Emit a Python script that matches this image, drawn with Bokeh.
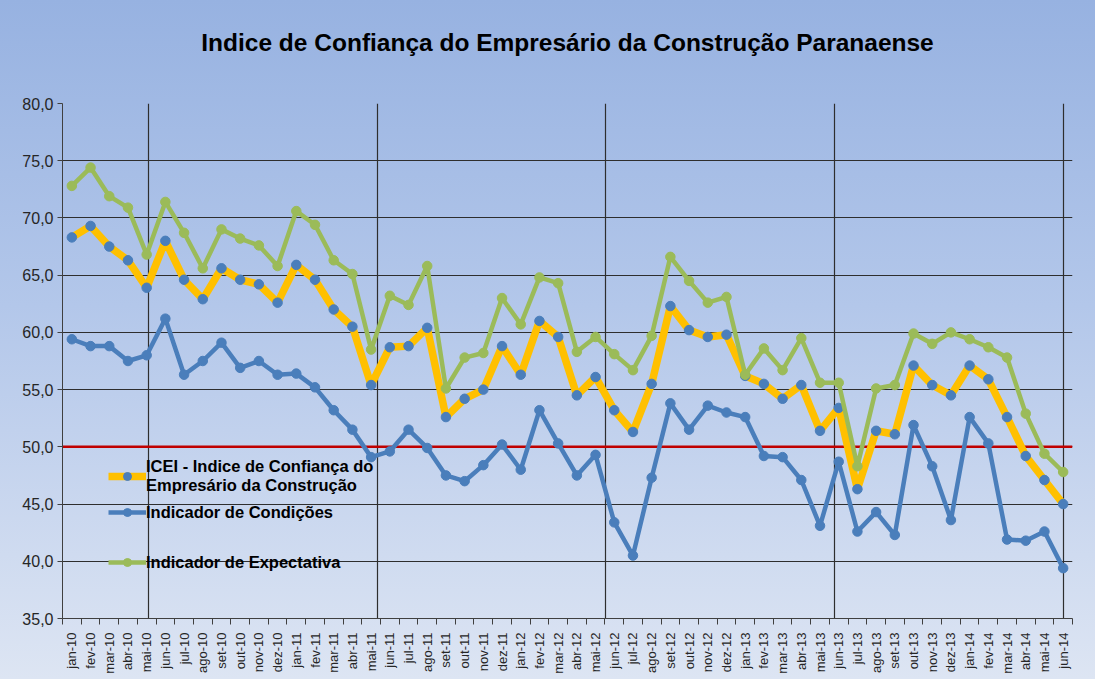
import math
from bokeh.plotting import figure
from bokeh.models import FixedTicker, Span, Legend, LegendItem
from bokeh.embed import file_html
from bokeh.resources import INLINE

# ---------------- data ----------------
months = [
    "jan-10", "fev-10", "mar-10", "abr-10", "mai-10", "jun-10", "jul-10", "ago-10", "set-10", "out-10", "nov-10", "dez-10",
    "jan-11", "fev-11", "mar-11", "abr-11", "mai-11", "jun-11", "jul-11", "ago-11", "set-11", "out-11", "nov-11", "dez-11",
    "jan-12", "fev-12", "mar-12", "abr-12", "mai-12", "jun-12", "jul-12", "ago-12", "set-12", "out-12", "nov-12", "dez-12",
    "jan-13", "fev-13", "mar-13", "abr-13", "mai-13", "jun-13", "jul-13", "ago-13", "set-13", "out-13", "nov-13", "dez-13",
    "jan-14", "fev-14", "mar-14", "abr-14", "mai-14", "jun-14",
]

icei = [
    68.3, 69.3, 67.5, 66.3, 63.9, 68.0, 64.6, 62.9, 65.6, 64.6, 64.2, 62.6,
    65.9, 64.6, 62.0, 60.5, 55.4, 58.7, 58.8, 60.4, 52.6, 54.2, 55.0, 58.8,
    56.3, 61.0, 59.6, 54.5, 56.1, 53.2, 51.3, 55.5, 62.3, 60.2, 59.6, 59.8,
    56.2, 55.5, 54.2, 55.4, 51.4, 53.4, 46.3, 51.4, 51.1, 57.1, 55.4, 54.5,
    57.1, 55.9, 52.6, 49.2, 47.1, 45.0,
]

condicoes = [
    59.4, 58.8, 58.8, 57.5, 58.0, 61.2, 56.3, 57.5, 59.1, 56.9, 57.5, 56.3,
    56.4, 55.2, 53.2, 51.5, 49.1, 49.6, 51.5, 49.9, 47.5, 47.0, 48.4, 50.2,
    48.0, 53.2, 50.3, 47.5, 49.3, 43.4, 40.5, 47.3, 53.8, 51.5, 53.6, 53.0,
    52.6, 49.2, 49.1, 47.1, 43.1, 48.7, 42.6, 44.3, 42.3, 51.9, 48.3, 43.6,
    52.6, 50.3, 41.9, 41.8, 42.6, 39.4,
]

expectativa = [
    72.8, 74.4, 71.9, 70.9, 66.8, 71.4, 68.7, 65.6, 69.0, 68.2, 67.6, 65.8,
    70.6, 69.4, 66.3, 65.1, 58.5, 63.2, 62.4, 65.8, 55.1, 57.8, 58.2, 63.0,
    60.7, 64.8, 64.3, 58.3, 59.6, 58.1, 56.7, 59.7, 66.6, 64.5, 62.6, 63.1,
    56.3, 58.6, 56.7, 59.5, 55.6, 55.6, 48.3, 55.1, 55.4, 59.9, 59.0, 60.0,
    59.4, 58.7, 57.8, 52.9, 49.4, 47.8,
]

y_ticks = [35, 40, 45, 50, 55, 60, 65, 70, 75, 80]
y_tick_labels = ["35,0", "40,0", "45,0", "50,0", "55,0", "60,0", "65,0", "70,0", "75,0", "80,0"]

legend_labels = [
    "ICEI - Indice de Confiança do\nEmpresário da Construção",
    "Indicador de Condições",
    "Indicador de Expectativa",
]
title_text = "Indice de Confiança do Empresário da Construção Paranaense"
reference_level = 50

# ---------------- figure ----------------
x = list(range(len(months)))
FONT = "Liberation Sans"

p = figure(
    width=1095, height=679,
    output_backend="svg", toolbar_location=None,
    x_range=(-0.5, len(months) - 0.5), y_range=(y_ticks[0], y_ticks[-1]),
    min_border_left=62, min_border_right=23, min_border_top=103, min_border_bottom=61,
)
p.styles = {"background": "linear-gradient(180deg, #97b2e1 0%, #b3c7ea 45%, #dde5f3 100%)"}
p.border_fill_alpha = 0
p.background_fill_alpha = 0
p.outline_line_color = None

# title (a blank second line lifts it higher above the frame)
p.title.text = title_text + "\n"
p.title.align = "center"
p.title.offset = -5
p.title.text_font = FONT
p.title.text_font_size = "24.5px"
p.title.text_font_style = "bold"
p.title.text_color = "#000000"
p.title.standoff = 41

# y axis
p.yaxis.ticker = FixedTicker(ticks=y_ticks)
p.yaxis.major_label_overrides = {t: lab for t, lab in zip(y_ticks, y_tick_labels)}
p.yaxis.major_label_text_font = FONT
p.yaxis.major_label_text_font_size = "16px"
p.yaxis.major_label_text_color = "#262626"
p.yaxis.axis_line_color = "#404040"
p.yaxis.major_tick_line_color = "#404040"
p.yaxis.major_tick_out = 5
p.yaxis.major_tick_in = 0
p.yaxis.minor_tick_line_color = None
p.yaxis.major_label_standoff = 4

# x axis
p.xaxis.ticker = FixedTicker(ticks=x, minor_ticks=[i - 0.5 for i in range(len(months) + 1)])
p.xaxis.major_label_overrides = {i: m for i, m in zip(x, months)}
p.xaxis.major_label_orientation = math.pi / 2
p.xaxis.major_label_text_font = FONT
p.xaxis.major_label_text_font_size = "13px"
p.xaxis.major_label_text_color = "#262626"
p.xaxis.axis_line_color = "#404040"
p.xaxis.major_tick_line_color = None
p.xaxis.minor_tick_line_color = "#404040"
p.xaxis.minor_tick_out = 6
p.xaxis.minor_tick_in = 0
p.xaxis.major_label_standoff = 8

# grids
p.ygrid.ticker = FixedTicker(ticks=y_ticks)
p.ygrid.grid_line_color = "#2e2e2e"
p.ygrid.grid_line_width = 1.2
p.xgrid.ticker = FixedTicker(ticks=[4.1, 16.35, 28.55, 40.8, 53.0])
p.xgrid.grid_line_color = "#2e2e2e"
p.xgrid.grid_line_width = 1.2

# reference line
p.add_layout(Span(location=reference_level, dimension="width", line_color="#c00000",
                  line_width=2.5, level="underlay"))

# series
YELLOW = "#ffc000"
BLUE = "#4a7ebb"
GREEN = "#9bbb59"

r_icei_line = p.line(x, icei, line_color=YELLOW, line_width=7.5, line_join="round")
r_icei_pts = p.scatter(x, icei, size=9.5, fill_color=BLUE, line_color=BLUE)
r_cond_line = p.line(x, condicoes, line_color=BLUE, line_width=4.5, line_join="round")
r_cond_pts = p.scatter(x, condicoes, size=9.5, fill_color=BLUE, line_color=BLUE)
r_exp_line = p.line(x, expectativa, line_color=GREEN, line_width=4.5, line_join="round")
r_exp_pts = p.scatter(x, expectativa, size=9.5, fill_color=GREEN, line_color=GREEN)

def style_legend(lg):
    lg.background_fill_alpha = 0
    lg.border_line_color = None
    lg.label_text_font = FONT
    lg.label_text_font_size = "16.5px"
    lg.label_text_font_style = "bold"
    lg.label_text_color = "#000000"
    lg.label_text_line_height = 1.2
    lg.glyph_width = 38
    lg.glyph_height = 20
    lg.label_standoff = 0
    lg.padding = 0
    lg.margin = 0
    lg.spacing = 7

leg_a = Legend(items=[
    LegendItem(label=legend_labels[0], renderers=[r_icei_line, r_icei_pts]),
    LegendItem(label=legend_labels[1], renderers=[r_cond_line, r_cond_pts]),
], location=(46, 96))
style_legend(leg_a)
leg_b = Legend(items=[
    LegendItem(label=legend_labels[2], renderers=[r_exp_line, r_exp_pts]),
], location=(46, 46))
style_legend(leg_b)
p.add_layout(leg_a, "center")
p.add_layout(leg_b, "center")

open("out.html", "w").write(file_html(p, INLINE))
